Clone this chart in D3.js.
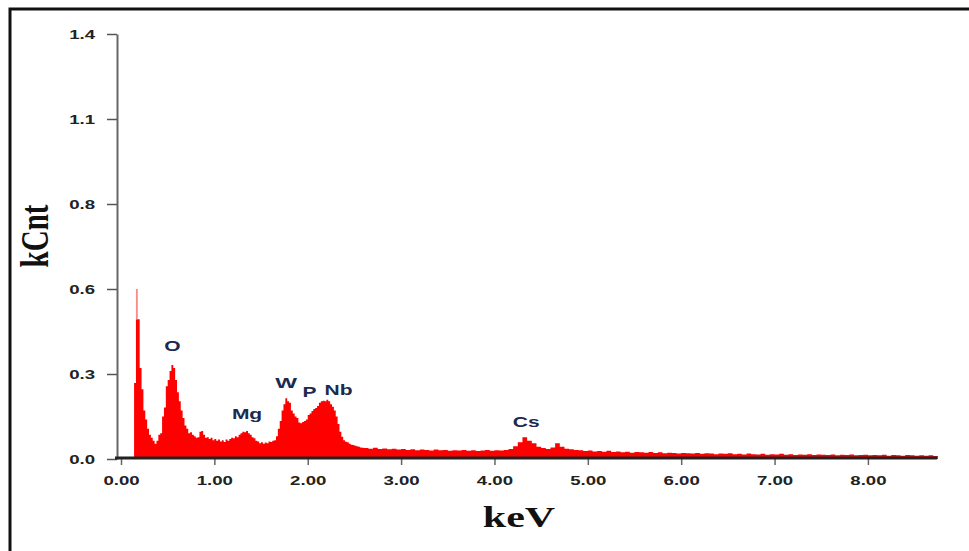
<!DOCTYPE html>
<html>
<head>
<meta charset="utf-8">
<script src="https://cdn.jsdelivr.net/npm/d3@7"></script>
<style>
  html, body { margin: 0; padding: 0; background: #fff; }
  svg { display: block; }
</style>
</head>
<body>
<svg id="chart" width="969" height="551"></svg>
<script>
// ---- Data (EDS spectrum, kCnt vs keV) ----
// Channel calibration: low-energy segment and high-energy segment
const lowStart = 0.14, lowStep = 0.02;
const countsLow = [
  0.25, 0.56, 0.46, 0.30, 0.23, 0.16, 0.13, 0.10, 0.08, 0.07,
  0.06, 0.05, 0.06, 0.08, 0.085, 0.14, 0.17, 0.24, 0.26, 0.29,
  0.31, 0.30, 0.26, 0.22, 0.19, 0.16, 0.135, 0.11, 0.10, 0.085,
  0.088, 0.08, 0.075, 0.07, 0.072, 0.09, 0.092, 0.08, 0.07, 0.072,
  0.066, 0.07, 0.062, 0.066, 0.06, 0.064, 0.058, 0.062, 0.056, 0.064,
  0.06, 0.066, 0.07, 0.068, 0.075, 0.072, 0.08, 0.085, 0.09, 0.088,
  0.092, 0.085, 0.08, 0.072, 0.068, 0.06, 0.058, 0.052, 0.055, 0.05,
  0.054, 0.052, 0.058, 0.056, 0.06, 0.062, 0.075, 0.10, 0.125, 0.16,
  0.18, 0.20, 0.19, 0.185, 0.16, 0.15, 0.14, 0.135, 0.12, 0.118,
  0.122, 0.125, 0.13, 0.145, 0.15, 0.158, 0.165, 0.168, 0.175, 0.185,
  0.19, 0.192, 0.19, 0.195, 0.19, 0.18, 0.172, 0.16, 0.14, 0.115,
  0.09, 0.073, 0.062, 0.057, 0.055, 0.05, 0.047, 0.046, 0.044, 0.042,
  0.04, 0.038, 0.037
];
const highStart = 2.60, highStep = 0.05;
const countsHigh = [
  0.036, 0.034, 0.037, 0.033, 0.035, 0.032, 0.034, 0.031, 0.033, 0.030,
  0.032, 0.029, 0.031, 0.030, 0.028, 0.031, 0.029, 0.030, 0.027, 0.029,
  0.028, 0.030, 0.027, 0.029, 0.026, 0.028, 0.030, 0.027, 0.029, 0.028,
  0.030, 0.033, 0.042, 0.055, 0.072, 0.060, 0.052, 0.040, 0.036, 0.033,
  0.038, 0.052, 0.040, 0.034, 0.032, 0.030, 0.029, 0.026, 0.028, 0.025,
  0.026, 0.024, 0.027, 0.023, 0.025, 0.022, 0.024, 0.021, 0.023, 0.022,
  0.021, 0.023, 0.020, 0.022, 0.019, 0.021, 0.020, 0.018, 0.020, 0.019,
  0.018, 0.020, 0.017, 0.019, 0.018, 0.016, 0.018, 0.017, 0.019, 0.016,
  0.017, 0.015, 0.018, 0.016, 0.015, 0.017, 0.014, 0.016, 0.015, 0.017,
  0.014, 0.016, 0.013, 0.015, 0.014, 0.016, 0.013, 0.015, 0.014, 0.013,
  0.015, 0.012, 0.014, 0.013, 0.015, 0.012, 0.013, 0.014, 0.012, 0.013,
  0.012, 0.014, 0.011, 0.013, 0.012, 0.011, 0.013, 0.012, 0.011, 0.012,
  0.011, 0.012, 0.010, 0.011
];
// the tallest (very narrow) spike is drawn lighter above this level
const spikeCore = 0.46;

// Peak labels
const peakNames = ["O", "Mg", "W", "P", "Nb", "Cs"];
const peakKeV   = [0.55, 1.35, 1.77, 2.02, 2.33, 4.34];
const peakKCnt  = [0.356, 0.132, 0.234, 0.204, 0.21, 0.105];

// Axis ticks
const xTicks = [0, 1, 2, 3, 4, 5, 6, 7, 8];
const yTicks = [0, 0.28, 0.56, 0.84, 1.12, 1.4];

// ---- Build spectrum ----
const spectrum = [];
countsLow.forEach((c, i) => spectrum.push({ kev: lowStart + i * lowStep, kcnt: c }));
countsHigh.forEach((c, i) => spectrum.push({ kev: highStart + i * highStep, kcnt: c }));

const svg = d3.select("#chart");

// frame (only top and left edges visible in the picture)
svg.append("rect")
  .attr("x", 10).attr("y", 9).attr("width", 1000).attr("height", 600)
  .attr("fill", "none").attr("stroke", "#111").attr("stroke-width", 3);

const x = d3.scaleLinear().domain([0, 8.74]).range([121, 937]);
const y = d3.scaleLinear().domain([0, 1.4]).range([459, 34]);

// spectrum area (solid red part)
const area = d3.area()
  .x(d => x(d.kev))
  .y0(y(0))
  .y1(d => y(Math.min(d.kcnt, spikeCore)))
  .curve(d3.curveStepAfter);

svg.append("path")
  .datum(spectrum)
  .attr("d", area)
  .attr("fill", "#ff0000")
  .attr("stroke", "none");

// lighter top of the narrow spike
const areaTop = d3.area()
  .x(d => x(d.kev))
  .y0(d => y(Math.min(d.kcnt, spikeCore)))
  .y1(d => y(d.kcnt))
  .curve(d3.curveStepAfter);

svg.append("path")
  .datum(spectrum)
  .attr("d", areaTop)
  .attr("fill", "#ff8a8a")
  .attr("stroke", "none");

// Y axis
const yAxisG = svg.append("g")
  .attr("transform", "translate(117,0)")
  .call(d3.axisLeft(y).tickValues(yTicks).tickFormat(d3.format(".1f"))
        .tickSize(10).tickSizeOuter(0).tickPadding(12));
yAxisG.select(".domain").attr("stroke", "#666").attr("stroke-width", 2);
yAxisG.selectAll(".tick line").attr("stroke", "#555").attr("stroke-width", 1.5);
yAxisG.selectAll(".tick text")
  .attr("fill", "#222")
  .style("font-family", "'Liberation Sans', Arial, sans-serif")
  .style("font-weight", "bold")
  .style("font-size", "13.5px")
  .attr("transform", "translate(-22,0) scale(1.38,1) translate(22,0)");

// X axis
const xAxisG = svg.append("g")
  .attr("transform", "translate(0,458)")
  .call(d3.axisBottom(x).tickValues(xTicks).tickFormat(d3.format(".2f"))
        .tickSize(7).tickSizeOuter(0).tickPadding(10));
xAxisG.select(".domain").remove();
xAxisG.selectAll(".tick line").attr("stroke", "#666").attr("stroke-width", 1.5);
xAxisG.selectAll(".tick text")
  .attr("fill", "#222")
  .style("font-family", "'Liberation Sans', Arial, sans-serif")
  .style("font-weight", "bold")
  .style("font-size", "13.5px")
  .attr("transform", "scale(1.38,1)");
xAxisG.append("line")
  .attr("x1", 115).attr("x2", x(8.74))
  .attr("y1", 0).attr("y2", 0)
  .attr("stroke", "#222").attr("stroke-width", 3);

// Peak labels
peakNames.forEach((name, i) => {
  svg.append("text")
    .attr("transform", `translate(${x(peakKeV[i])},${y(peakKCnt[i])}) scale(${name === "W" ? 1.65 : 1.5},1)`)
    .attr("text-anchor", "middle")
    .attr("fill", "#1b2a4e")
    .style("font-family", "'Liberation Sans', Arial, sans-serif")
    .style("font-weight", "bold")
    .style("font-size", "14px")
    .text(name);
});

// Axis titles
svg.append("text")
  .attr("transform", "translate(48,236) scale(1.4,1) rotate(-90)")
  .attr("text-anchor", "middle")
  .attr("fill", "#111")
  .style("font-family", "'Liberation Serif', 'Times New Roman', serif")
  .style("font-weight", "bold")
  .style("font-size", "29px")
  .text("kCnt");

svg.append("text")
  .attr("transform", "translate(519,527) scale(1.4,1)")
  .attr("text-anchor", "middle")
  .attr("fill", "#111")
  .style("font-family", "'Liberation Serif', 'Times New Roman', serif")
  .style("font-weight", "bold")
  .style("font-size", "30px")
  .text("keV");
</script>
</body>
</html>
